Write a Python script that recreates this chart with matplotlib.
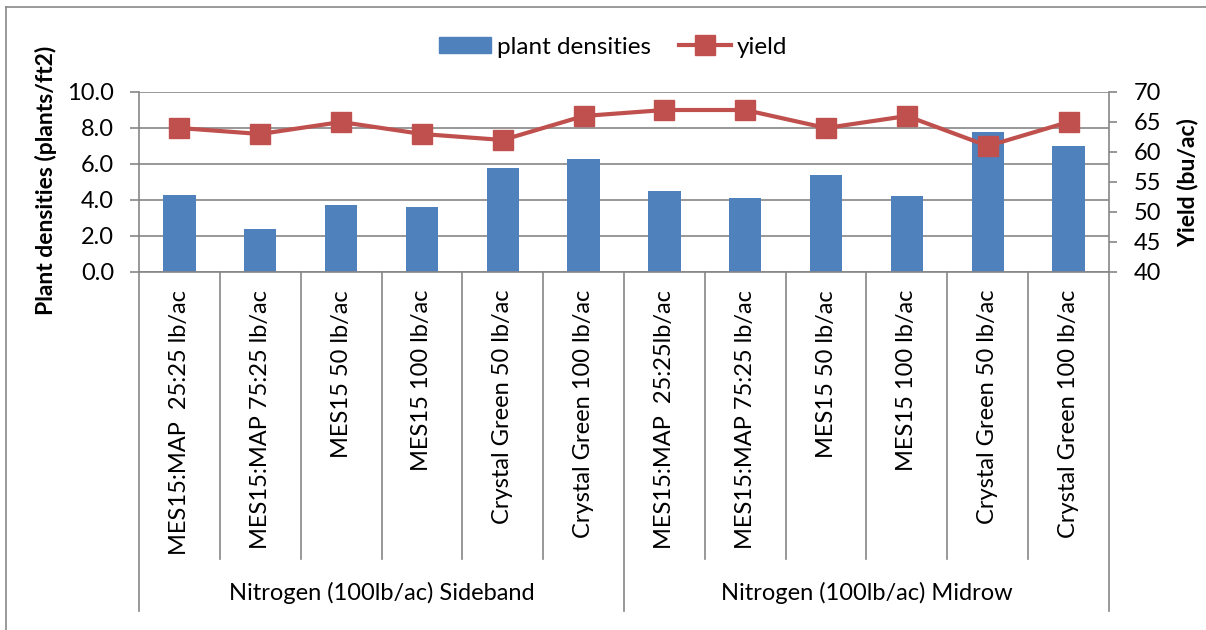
import matplotlib
matplotlib.use("Agg")
import matplotlib.pyplot as plt
from matplotlib.transforms import blended_transform_factory
from matplotlib.lines import Line2D
from matplotlib.patches import Patch

categories = ["MES15:MAP  25:25 lb/ac", "MES15:MAP 75:25 lb/ac", "MES15 50 lb/ac",
              "MES15 100 lb/ac", "Crystal Green 50 lb/ac", "Crystal Green 100 lb/ac",
              "MES15:MAP  25:25lb/ac", "MES15:MAP 75:25 lb/ac", "MES15 50 lb/ac",
              "MES15 100 lb/ac", "Crystal Green 50 lb/ac", "Crystal Green 100 lb/ac"]
groups = ["Nitrogen (100lb/ac) Sideband", "Nitrogen (100lb/ac) Midrow"]
group_sizes = [6, 6]
plant_densities = [4.3, 2.4, 3.7, 3.6, 5.8, 6.3, 4.5, 4.1, 5.4, 4.2, 7.8, 7.0]
yield_vals = [64, 63, 65, 63, 62, 66, 67, 67, 64, 66, 61, 65]
left_ticks = [0.0, 2.0, 4.0, 6.0, 8.0, 10.0]
right_ticks = [40, 45, 50, 55, 60, 65, 70]

plt.rcParams['font.family'] = ['Lato', 'DejaVu Sans']
W, H = 1206, 630
fig = plt.figure(figsize=(W / 100, H / 100), dpi=100)

def fx(px):
    return px / W

def fy(py):
    return 1 - py / H

ax_l, ax_r, ax_t, ax_b = 139, 1109, 92, 272
ax = fig.add_axes([fx(ax_l), fy(ax_b), fx(ax_r - ax_l), fy(ax_t) - fy(ax_b)])
ax2 = ax.twinx()

grey = "#868686"
blue = "#4F81BD"
red = "#C0504D"

x = list(range(len(categories)))
ax.bar(x, plant_densities, width=0.4, color=blue, zorder=3)
ax2.plot(x, yield_vals, color=red, lw=3, marker='s', markersize=14.5,
         markerfacecolor=red, markeredgecolor=red, zorder=4)

ax.set_xlim(-0.5, len(categories) - 0.5)
ax.set_ylim(0, 10)
ax.set_yticks(left_ticks)
ax.set_yticklabels([f"{v:.1f}" for v in left_ticks])
ax2.set_ylim(40, 70)
ax2.set_yticks(right_ticks)
ax2.set_yticklabels([str(v) for v in right_ticks])
ax.set_xticks([])

ax.yaxis.grid(True, color=grey, lw=1.2, zorder=0)
ax.set_axisbelow(True)
for a in (ax, ax2):
    for s in a.spines.values():
        s.set_visible(False)
ax.spines['left'].set_visible(True)
ax.spines['left'].set_color(grey)
ax.spines['left'].set_linewidth(1.2)
ax2.spines['right'].set_visible(True)
ax2.spines['right'].set_color(grey)
ax2.spines['right'].set_linewidth(1.2)
ax.tick_params(axis='y', length=6.5, width=1.2, color=grey, labelsize=17, pad=11.5)
ax2.tick_params(axis='y', length=6, width=1.2, color=grey, labelsize=17, pad=12)

fig.text(fx(46), fy(180), "Plant densities (plants/ft2)", rotation=90, ha='center',
         va='center', fontsize=16.5, fontweight='bold')
fig.text(fx(1188), fy(183), "Yield (bu/ac)", rotation=90, ha='center',
         va='center', fontsize=16.5, fontweight='bold')

# category axis
tr = blended_transform_factory(ax.transData, fig.transFigure)
ax.plot([-0.5, len(categories) - 0.5], [fy(ax_b)] * 2, transform=tr, color=grey,
        lw=1.2, clip_on=False, zorder=5)
bounds = [0]
for g in group_sizes:
    bounds.append(bounds[-1] + g)
for i in range(len(categories) + 1):
    xb = i - 0.5
    bottom = 611 if i in bounds else 559
    ax.plot([xb, xb], [fy(ax_b), fy(bottom)], transform=tr, color=grey,
            lw=1.2, clip_on=False)
for i, lab in enumerate(categories):
    ax.text(i, fy(290), lab, transform=tr, rotation=90, ha='center', va='top',
            fontsize=17, color='black')
for gi, g in enumerate(groups):
    center = (bounds[gi] + bounds[gi + 1]) / 2 - 0.5
    ax.text(center, fy(593), g, transform=tr, ha='center', va='center',
            fontsize=17, color='black')

# outer border
fig.add_artist(Line2D([fx(6), 1.0], [fy(7), fy(7)], color="#898989", lw=1.2))
fig.add_artist(Line2D([fx(6), fx(6)], [fy(7), 0.0], color="#898989", lw=1.2))

handles = [Patch(facecolor=blue, edgecolor=blue),
           Line2D([0], [0], color=red, lw=3, marker='s', markersize=14.5)]
fig.legend(handles, ["plant densities", "yield"], loc='center',
           bbox_to_anchor=(fx(613), fy(47)), ncol=2, frameon=False, fontsize=17.5,
           handlelength=2.15, handleheight=0.6, columnspacing=1.15, handletextpad=0.25)

fig.savefig("out.png", dpi=100)
